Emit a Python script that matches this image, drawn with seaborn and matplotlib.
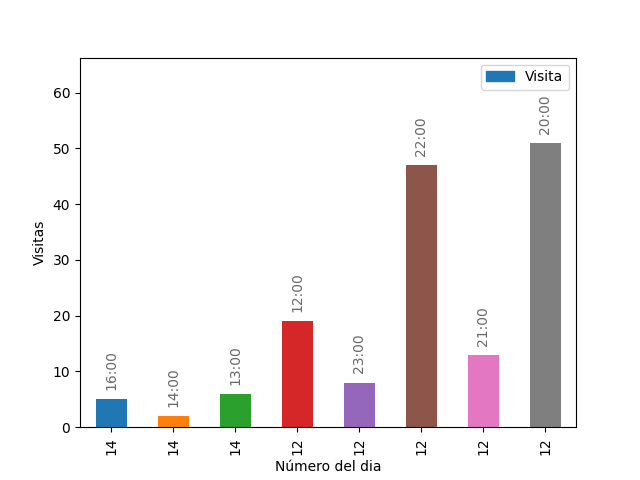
import matplotlib
matplotlib.use("Agg")
import matplotlib.pyplot as plt
import matplotlib.patches as mpatches
import seaborn as sns
import pandas as pd

dias = ["14", "14", "14", "12", "12", "12", "12", "12"]
horas = ["16:00", "14:00", "13:00", "12:00", "23:00", "22:00", "21:00", "20:00"]
visitas = [5, 2, 6, 19, 8, 47, 13, 51]

colors = ["#1f77b4", "#ff7f0e", "#2ca02c", "#d62728", "#9467bd",
          "#8c564b", "#e377c2", "#7f7f7f"]

df = pd.DataFrame({"pos": [str(i) for i in range(len(visitas))],
                   "Visita": visitas, "hora": horas})

fig, ax = plt.subplots(figsize=(6.4, 4.8), dpi=100)
sns.barplot(data=df, x="pos", y="Visita", hue="pos", palette=colors,
            width=0.5, legend=False, ax=ax, saturation=1)
ax.set_xticks(range(len(dias)))
ax.set_xticklabels(dias, rotation=90)
ax.set_xlim(-0.5, len(dias) - 0.5)
ax.set_ylim(0, max(visitas) * 1.3)
ax.set_xlabel("Número del dia")
ax.set_ylabel("Visitas")

for i, (v, h) in enumerate(zip(visitas, horas)):
    ax.text(i, v + 1.65, h, rotation=90, ha="center", va="bottom",
            color="dimgray", fontsize=10)

handle = mpatches.Patch(color=colors[0], label="Visita")
ax.legend(handles=[handle], loc="upper right")

fig.savefig("out.png", dpi=100)
